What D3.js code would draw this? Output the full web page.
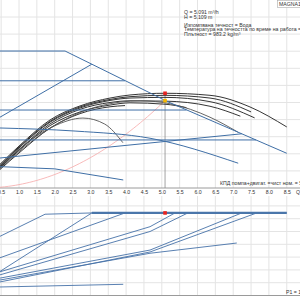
<!DOCTYPE html>
<html>
<head>
<meta charset="utf-8">
<script src="https://cdn.jsdelivr.net/npm/d3@7"></script>
<style>
  body { margin: 0; background: #fff; }
  svg { display: block; }
  text { font-family: "Liberation Sans", Arial, sans-serif; fill: #333; }
</style>
</head>
<body>
<svg id="chart" width="300" height="300"></svg>
<script>
// Q axis ticks (m3/h)
const qTicks = [0.5, 1.0, 1.5, 2.0, 2.5, 3.0, 3.5, 4.0, 4.5, 5.0, 5.5, 6.0, 6.5, 7.0, 7.5, 8.0, 8.5];
const hGrid = [1, 2, 3, 4, 5, 6, 7, 8, 9, 10];
const pGrid = [20, 40, 60, 80, 100, 120, 140];

// duty point
const dutyQ = 5.091;
const dutyH = 5.109;
const dutyEta = 55.4;
const dutyP = 129;

// H curves [Q, H]
const hCurves = [
  [[0.45, 8.01], [2.29, 8.01], [3.04, 7.24], [4.67, 5.56], [5.15, 5.06], [8.5, 2.03]],
  [[0.45, 6.27], [3.97, 6.27]],
  [[0.45, 4.12], [3.04, 7.24]],
  [[0.45, 4.56], [5.69, 4.56]],
  [[0.45, 1.75], [7.24, 3.17]],
  [[0.45, 2.81], [7.64, 2.81]],
  [[0.45, 3.51], [2.57, 3.33], [4.67, 2.91], [7.14, 1.45]],
  [[0.45, 1.25], [2.0, 1.12], [3.92, 0.47]]
];

// efficiency curves [Q, eta %]
const etaCurves = [
  [[0.45, 13.5], [1.03, 25.1], [1.87, 39.8], [2.71, 48.0], [3.55, 52.6], [4.11, 54.4], [5.09, 55.4], [6.35, 54.2], [7.47, 47.4], [8.5, 35.7]],
  [[0.45, 12.8], [1.03, 24.5], [1.87, 39.0], [2.71, 47.4], [3.55, 51.8], [4.11, 53.4], [5.09, 54.2], [6.35, 52.6], [7.5, 44.5]],
  [[0.45, 12.5], [1.03, 24.0], [1.87, 38.5], [2.71, 46.8], [3.55, 51.2], [4.11, 52.6], [5.09, 53.0], [6.35, 50.5], [7.6, 41.0]],
  [[0.45, 12.0], [1.03, 23.0], [1.87, 37.5], [2.71, 46.0], [3.55, 50.0], [4.11, 51.0], [5.09, 50.8], [6.35, 47.8], [7.2, 42.0]],
  [[0.45, 11.5], [1.03, 22.5], [1.87, 36.5], [2.71, 44.5], [3.55, 48.5], [4.11, 49.8], [5.09, 49.0], [5.69, 47.0]],
  [[0.45, 10.5], [1.03, 21.0], [1.87, 35.0], [2.71, 43.5], [3.55, 47.5], [3.97, 48.2]]
];
const etaGray = [
  [[0.45, 11.0], [1.87, 35.0], [3.27, 48.0], [4.40, 51.0], [5.25, 49.2], [6.35, 41.4], [7.13, 32.7]],
  [[0.45, 12.5], [1.95, 35.9], [2.79, 40.9], [3.40, 37.4], [3.91, 26.5]]
];

// power curves [Q, P1 W]
const pCurves = [
  [[0.45, 92], [1.73, 127], [3.04, 129], [8.5, 129]],
  [[0.45, 37], [3.04, 129]],
  [[0.45, 58.6], [3.97, 129]],
  [[0.45, 36.7], [4.67, 107.5], [5.37, 129]],
  [[0.45, 32], [4.67, 100], [5.73, 129]],
  [[0.45, 27], [4.67, 71], [7.24, 129]],
  [[0.45, 21], [4.67, 68], [7.66, 129]],
  [[0.45, 24], [3.27, 52], [4.67, 66], [7.1, 82]],
  [[0.45, 13.3], [3.92, 17.5]]
];

const infoLines = [
  "Q = 5.091 m\u00b3/h",
  "H = 5.109 m",
  "\u0418\u0437\u043f\u043e\u043c\u043f\u0432\u0430\u043d\u0430 \u0442\u0435\u0447\u043d\u043e\u0441\u0442 = \u0412\u043e\u0434\u0430",
  "\u0422\u0435\u043c\u043f\u0435\u0440\u0430\u0442\u0443\u0440\u0430 \u043d\u0430 \u0442\u0435\u0447\u043d\u043e\u0441\u0442\u0442\u0430 \u043f\u043e \u0432\u0440\u0435\u043c\u0435 \u043d\u0430 \u0440\u0430\u0431\u043e\u0442\u0430 = 60 \u00b0C",
  "\u041f\u043b\u044a\u0442\u043d\u043e\u0441\u0442 = 983.2 kg/m\u00b3"
];

const svg = d3.select('#chart');

const x = d3.scaleLinear().domain([5, 9]).range([161.8, 304.6]);
const yH = d3.scaleLinear().domain([0, 10]).range([188, 17]);
const yEta = d3.scaleLinear().domain([0, 100]).range([188, 17]);
const yP = d3.scaleLinear().domain([0, 140]).range([295.5, 205.9]);

// grid
const grid = svg.append('g').attr('stroke', '#e4e4e4').attr('stroke-width', 1);
const vGrid = d3.range(0, 9.01, 0.5);
grid.selectAll('.vt').data(vGrid).join('line')
  .attr('x1', (d) => x(d)).attr('x2', (d) => x(d))
  .attr('y1', 0).attr('y2', yH(0));
grid.selectAll('.vb').data(vGrid).join('line')
  .attr('x1', (d) => x(d)).attr('x2', (d) => x(d))
  .attr('y1', 196).attr('y2', yP(0));
grid.selectAll('.ht').data(hGrid).join('line')
  .attr('x1', 0).attr('x2', 300)
  .attr('y1', (d) => yH(d)).attr('y2', (d) => yH(d));
grid.selectAll('.hb').data(pGrid).join('line')
  .attr('x1', 0).attr('x2', 300)
  .attr('y1', (d) => yP(d)).attr('y2', (d) => yP(d));

// axes lines
svg.append('line').attr('x1', 0).attr('x2', 300).attr('y1', yH(0)).attr('y2', yH(0))
  .attr('stroke', '#9a9a9a');
svg.append('line').attr('x1', 0).attr('x2', 300).attr('y1', yP(0)).attr('y2', yP(0))
  .attr('stroke', '#9a9a9a');

// Q tick labels
const xAxis = d3.axisBottom(x).tickValues(qTicks).tickSize(0).tickFormat(d3.format('.1f'));
const ax = svg.append('g').attr('transform', `translate(0,${yH(0)})`).call(xAxis);
ax.select('.domain').remove();
ax.selectAll('text').attr('dy', 0).attr('y', 5.5).style('font-size', '5.2px').attr('fill', '#444')
  .style('font-family', '"Liberation Sans", Arial, sans-serif');
svg.append('text').attr('x', 296).attr('y', yH(0) + 5.5).style('font-size', '5.2px').text('Q [m\u00b3/h]');

// vertical duty line
svg.append('line').attr('x1', x(dutyQ)).attr('x2', x(dutyQ))
  .attr('y1', yEta(dutyEta)).attr('y2', yH(0))
  .attr('stroke', '#8a8a8a').attr('stroke-width', 0.8);

const lineH = d3.line().x((d) => x(d[0])).y((d) => yH(d[1]));
const lineHs = d3.line().x((d) => x(d[0])).y((d) => yH(d[1])).curve(d3.curveMonotoneX);
const lineEta = d3.line().x((d) => x(d[0])).y((d) => yEta(d[1])).curve(d3.curveMonotoneX);
const lineP = d3.line().x((d) => x(d[0])).y((d) => yP(d[1]));

// system curve
const sysK = dutyH / (dutyQ * dutyQ);
const sysPts = d3.range(0.4, dutyQ + 0.001, 0.1).concat([dutyQ]).map((q) => [q, sysK * q * q]);
svg.append('path').datum(sysPts).attr('d', lineHs)
  .attr('fill', 'none').attr('stroke', '#f6a8a8').attr('stroke-width', 0.8);

// efficiency curves
svg.append('g').selectAll('path').data(etaCurves).join('path')
  .attr('d', lineEta).attr('fill', 'none').attr('stroke', '#1e1e1e').attr('stroke-width', 0.9);
svg.append('g').selectAll('path').data(etaGray).join('path')
  .attr('d', lineEta).attr('fill', 'none').attr('stroke', '#555').attr('stroke-width', 0.9);

// H curves
svg.append('g').selectAll('path').data(hCurves).join('path')
  .attr('d', (d) => (d.length > 3 && d[0][1] !== d[1][1] ? lineHs(d) : lineH(d)))
  .attr('fill', 'none').attr('stroke', '#3f6fa6').attr('stroke-width', 1);

// power curves
svg.append('g').selectAll('path').data(pCurves).join('path')
  .attr('d', lineP).attr('fill', 'none').attr('stroke', '#4672a8').attr('stroke-width', 0.9);
svg.append('line').attr('x1', x(3.04)).attr('x2', x(8.5))
  .attr('y1', yP(dutyP)).attr('y2', yP(dutyP))
  .attr('stroke', '#4a76aa').attr('stroke-width', 2.2);

// duty markers
svg.append('rect').attr('x', x(dutyQ) - 1.8).attr('y', yEta(dutyEta) - 1.8)
  .attr('width', 3.6).attr('height', 3.6).attr('fill', '#e8231f');
svg.append('rect').attr('x', x(dutyQ) - 1.8).attr('y', yH(dutyH) - 1.8)
  .attr('width', 3.6).attr('height', 3.6).attr('fill', '#f5b800');
svg.append('rect').attr('x', x(dutyQ) - 1.8).attr('y', yP(dutyP) - 1.8)
  .attr('width', 3.6).attr('height', 3.6).attr('fill', '#e8231f');

// info text
svg.append('g').selectAll('text').data(infoLines).join('text')
  .attr('x', 184).attr('y', (d, i) => [14, 19, 26.5, 31.3, 36][i])
  .style('font-size', '5.2px').text((d) => d);

// MAGNA label box
svg.append('rect').attr('x', 277.5).attr('y', 0.5).attr('width', 30).attr('height', 7)
  .attr('fill', '#fff').attr('stroke', '#aaa').attr('stroke-width', 0.6);
svg.append('text').attr('x', 279).attr('y', 5.6).style('font-size', '5.2px').text('MAGNA1 25-80');

svg.append('text').attr('x', 220).attr('y', 185).style('font-size', '5.2px')
  .text('\u041a\u041f\u0414 \u043f\u043e\u043c\u043f\u0430+\u0434\u0432\u0438\u0433\u0430\u0442. =\u0447\u0438\u0441\u0442 \u043d\u043e\u043c. = 55.4 %');
svg.append('text').attr('x', 286).attr('y', 293.5).style('font-size', '5.2px').text('P1 = 129 W');
</script>
</body>
</html>
